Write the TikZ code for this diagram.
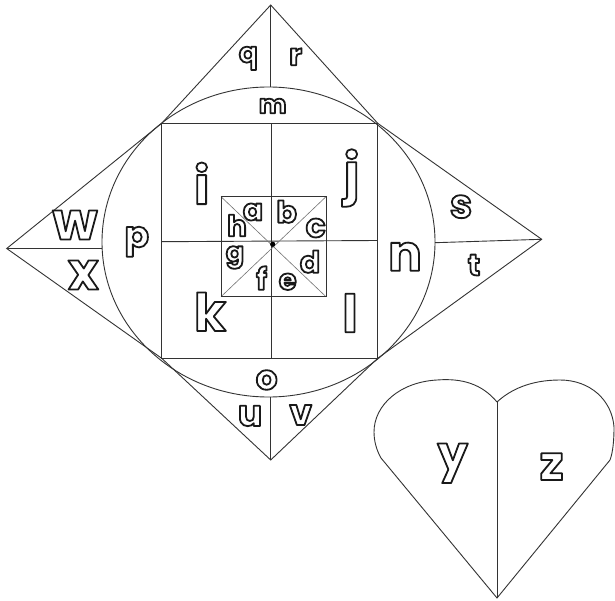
\documentclass[tikz,border=0pt]{standalone}
\usepackage{fontspec}
\newfontfamily\lf{Poppins}
\newcommand\olt[1]{\special{pdf:literal direct 0.1 G 2 Tr 1.8 w 1 j}#1\special{pdf:literal direct 0 Tr}}
\begin{document}
\begin{tikzpicture}[x=1pt,y=-1pt,
  ln/.style={line width=0.9pt, draw=black!80},
  thin/.style={line width=0.6pt, draw=black!55},
  lab/.style={text=white, inner sep=0pt, font=\lf\bfseries\fontsize{#1}{#1}\selectfont}]
\fill[white] (0,0) rectangle (615,601);
\useasboundingbox (0,0) rectangle (615,601);
% key points
\coordinate (T) at (270.7,5);
\coordinate (B) at (270.7,460);
\coordinate (L) at (6.7,248.5);
\coordinate (R) at (541.7,239.3);
\coordinate (TL) at (161.7,123.3);
\coordinate (TR) at (377.7,123.3);
\coordinate (BR) at (377.7,358.3);
\coordinate (BL) at (161.7,358.3);
\coordinate (Et) at (270.7,87);
\coordinate (Eb) at (270.7,397);
\coordinate (El) at (102.2,248.5);
\coordinate (Er) at (435,242.7);
\coordinate (St) at (271.7,123.3);
\coordinate (Sb) at (271.7,358.3);
\coordinate (Sl) at (161.7,241.7);
\coordinate (Sr) at (377.7,240.5);
% inner square
\coordinate (ITL) at (221,196.7);
\coordinate (ITR) at (326,196.7);
\coordinate (IBR) at (326,296.7);
\coordinate (IBL) at (221,296.7);
\coordinate (C) at (272.7,244.3);
% ellipse
\draw[ln] (268.5,242) ellipse [x radius=166.5pt, y radius=155pt];
% triangles
\draw[ln] (TL) -- (T) -- (TR);
\draw[ln] (TL) -- (L) -- (BL);
\draw[ln] (TR) -- (R) -- (BR);
\draw[ln] (BL) -- (B) -- (BR);
% square
\draw[ln] (TL) rectangle (BR);
% split lines
\draw[ln] (T) -- (Et);
\draw[ln] (Eb) -- (B);
\draw[ln] (L) -- (El);
\draw[ln] (Er) -- (R);
\draw[ln] (St) -- (Sb);
\draw[ln] (Sl) -- (Sr);
% inner square
\draw[thin] (ITL) -- (IBR);
\draw[thin] (ITR) -- (IBL);
\draw[ln] (ITL) rectangle (IBR);
\fill[black] (C) circle[radius=2.6pt];
% heart
\coordinate (Hc) at (497,402);
\coordinate (Hb) at (497,598);
\draw[ln] (Hc) .. controls (482,384) and (462,378) .. (437,380)
  .. controls (400,382) and (374,405) .. (374,432)
  .. controls (374,442) and (377,451) .. (381,458) -- (Hb) -- (610,460)
  .. controls (613,452) and (614,440) .. (614,427)
  .. controls (612,400) and (590,380) .. (560,380)
  .. controls (530,380) and (510,390) .. (Hc);
\draw[ln] (Hc) -- (Hb);
% labels
\node[lab=28] (q) at (248.3,58.3) {\olt{q}};
\node[lab=30] (r) at (295.7,56.7) {\olt{r}};
\node[lab=26] (m) at (272.7,106) {\olt{m}};
\node[lab=34] (o) at (266.7,380) {\olt{o}};
\node[lab=36] (u) at (250,416) {\olt{u}};
\node[lab=36] (v) at (300.7,415) {\olt{v}};
\node[lab=52] (w) at (75,225) {\olt{w}};
\node[lab=52] (x) at (83.3,275) {\olt{x}};
\node[lab=36] (p) at (136.7,241.7) {\olt{p}};
\node[lab=40] (s) at (461,206.7) {\olt{s}};
\node[lab=30] (t) at (474,265) {\olt{t}};
\node[lab=50] (n) at (405,256.7) {\olt{n}};
\node[lab=52] (i) at (201.7,183.3) {\olt{i}};
\node[lab=54] (j) at (351.7,178) {\olt{j}};
\node[lab=52] (k) at (210,311.7) {\olt{k}};
\node[lab=52] (l) at (350,313) {\olt{l}};
\node[lab=30] (a) at (253,212) {\olt{a}};
\node[lab=30] (b) at (286.7,211.7) {\olt{b}};
\node[lab=33] (c) at (315.7,228) {\olt{c}};
\node[lab=30] (d) at (310,261.7) {\olt{d}};
\node[lab=29] (e) at (287.7,281.7) {\olt{e}};
\node[lab=30] (f) at (261.7,278) {\olt{f}};
\node[lab=27] (g) at (235,257.5) {\olt{g}};
\node[lab=29] (h) at (237,225.5) {\olt{h}};
\node[lab=48] (y) at (452.7,463.3) {\olt{y}};
\node[lab=48] (z) at (551.7,466.7) {\olt{z}};
\end{tikzpicture}
\end{document}
